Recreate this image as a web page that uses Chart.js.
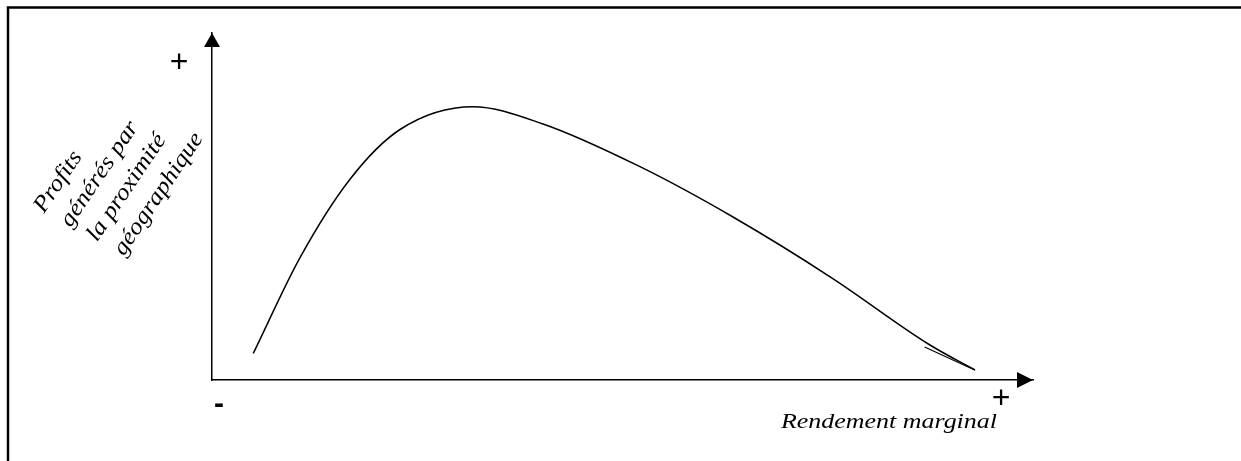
<!DOCTYPE html>
<html>
<head>
<meta charset="utf-8">
<script src="https://cdn.jsdelivr.net/npm/chart.js@4"></script>
<style>
  html, body { margin: 0; padding: 0; background: #fff; }
  #wrap { width: 1241px; height: 461px; position: relative; }
</style>
</head>
<body>
<div id="wrap"><canvas id="myChart" width="1241" height="461"></canvas></div>
<script>
// courbe : rendement marginal (x) -> profits de la proximité (y), échelle 0..100
const rendement = [5.03, 10.72, 16.81, 22.90, 31.79, 40.32, 52.13, 63.46, 75.52, 87.45, 92.94];
const profits   = [7.69, 35.27, 57.87, 72.19, 78.76, 73.78, 61.47, 46.97, 29.39, 10.09, 2.88];
// petit trait doublé en fin de courbe
const queueX = [86.8, 92.9];
const queueY = [9.5, 2.9];

const yLabel = ["Profits", "générés par", "la proximité", "géographique"];
const xLabel = "Rendement marginal";

const SERIF = '"Times New Roman", Tinos, "Liberation Serif", serif';
const SANS = 'Arial, "Liberation Sans", sans-serif';

const toPts = (xs, ys) => xs.map((x, i) => ({x: x, y: ys[i]}));

const decor = {
    id: 'decor',
    afterDraw(chart) {
        const ctx = chart.ctx;
        const a = chart.chartArea;
        ctx.save();
        ctx.fillStyle = '#000';
        ctx.strokeStyle = '#000';

        // cadre (haut + gauche)
        ctx.lineWidth = 2.5;
        ctx.beginPath();
        ctx.moveTo(8, 461);
        ctx.lineTo(8, 7.5);
        ctx.lineTo(1241, 7.5);
        ctx.stroke();

        // flèches
        ctx.beginPath();
        ctx.moveTo(a.left, a.top);
        ctx.lineTo(a.left - 8, a.top + 14);
        ctx.lineTo(a.left + 8, a.top + 14);
        ctx.closePath();
        ctx.fill();
        ctx.beginPath();
        ctx.moveTo(a.right, a.bottom);
        ctx.lineTo(a.right - 16, a.bottom - 8);
        ctx.lineTo(a.right - 16, a.bottom + 8);
        ctx.closePath();
        ctx.fill();

        // + / -
        ctx.textAlign = 'center';
        ctx.textBaseline = 'middle';
        ctx.font = '32px ' + SANS;
        ctx.fillText('+', 179, 63);
        ctx.fillText('+', 1001, 399);
        ctx.font = 'bold 30px ' + SANS;
        ctx.fillText('-', 219, 405);

        // titre axe x
        ctx.font = 'italic 22px ' + SERIF;
        ctx.textAlign = 'left';
        ctx.textBaseline = 'alphabetic';
        let w = ctx.measureText(xLabel).width;
        ctx.save();
        ctx.translate(781, 428);
        ctx.scale(216 / w, 1);
        ctx.fillText(xLabel, 0, 0);
        ctx.restore();

        // titre axe y, incliné
        ctx.font = 'italic 23px ' + SERIF;
        ctx.save();
        ctx.translate(44, 214);
        ctx.rotate(-56 * Math.PI / 180);
        yLabel.forEach((t, i) => {
            ctx.save();
            ctx.translate(i * 3, i * 30);
            ctx.scale(1.12, 1);
            ctx.fillText(t, 0, 0);
            ctx.restore();
        });
        ctx.restore();

        ctx.restore();
    }
};

new Chart("myChart", {
    type: "line",
    data: {
        datasets: [{
            data: toPts(rendement, profits),
            borderColor: "#000",
            borderWidth: 1.5,
            pointRadius: 0,
            cubicInterpolationMode: 'monotone'
        }, {
            data: toPts(queueX, queueY),
            borderColor: "#000",
            borderWidth: 1.2,
            pointRadius: 0
        }]
    },
    options: {
        responsive: false,
        animation: false,
        layout: { padding: { left: 212, right: 208, top: 33, bottom: 81 } },
        plugins: {
            legend: { display: false },
            tooltip: { enabled: false },
            title: { display: false }
        },
        scales: {
            x: {
                type: 'linear', min: 0, max: 100,
                grid: { display: false },
                ticks: { display: false },
                border: { display: true, color: '#000', width: 1.5 },
                afterFit: (s) => { s.height = 0; }
            },
            y: {
                type: 'linear', min: 0, max: 100,
                grid: { display: false },
                ticks: { display: false },
                border: { display: true, color: '#000', width: 1.5 },
                afterFit: (s) => { s.width = 0; }
            }
        }
    },
    plugins: [decor]
});
</script>
</body>
</html>
